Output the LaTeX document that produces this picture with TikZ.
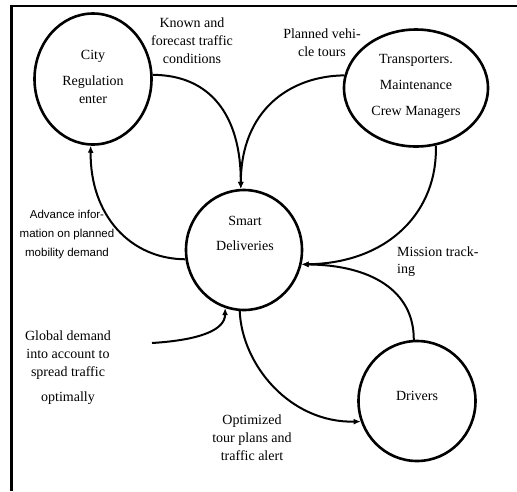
\documentclass[tikz,border=0pt]{standalone}
\usepackage{fontspec}
\setmainfont{Liberation Serif}
\newfontfamily\serfont{Liberation Serif}
\newfontfamily\advfont{Liberation Sans}
\usetikzlibrary{shapes.geometric,arrows.meta}
\begin{document}
\begin{tikzpicture}[x=1pt,y=-1pt,
 bubble/.style={ellipse,draw,line width=2.6pt,inner sep=0pt},
 conn/.style={line width=2pt,-{Latex[length=7pt,width=6pt]}},
 lbl/.style={align=center,inner sep=0pt,font=\serfont\fontsize{14}{18}\selectfont},
]
\useasboundingbox (0,0) rectangle (517,491);
\draw[line width=2.5pt] (11.5,491) -- (11.5,6) -- (517,6);

\node[bubble,minimum width=117pt,minimum height=131pt] (city) at (93,79) {};
\node[bubble,minimum width=144pt,minimum height=117pt] (trans) at (416,88) {};
\node[bubble,minimum width=116pt,minimum height=120pt] (smart) at (244,250) {};
\node[bubble,minimum width=117pt,minimum height=120pt] (drivers) at (417,401) {};

\draw[conn] (city.4) .. controls (210,75) and (241,115) .. (smart.93);
\draw[conn] (trans.170) .. controls (290,76) and (241,110) .. (smart.93);
\draw[conn] (smart.189) .. controls (130,259) and (90,215) .. (city.268);
\draw[conn] (trans.289) .. controls (438,210) and (390,263) .. (smart.346);
\draw[conn] (drivers.93) .. controls (414,290) and (370,265) .. (smart.346);
\draw[conn] (smart.266) .. controls (242,365) and (290,423) .. (drivers.200);
\coordinate (g) at (152,343);
\draw[conn] (g) .. controls (200,340) and (225,330) .. (smart.252);

\node[lbl] (knownlbl) at (192,41) {Known and\\forecast traffic\\conditions};
\node[lbl] (plannedlbl) at (322,43) {Planned vehi-\\cle tours};
\node[lbl,font=\serfont\fontsize{14}{26}\selectfont] (translbl) at (416,86) {Transporters.\\Maintenance\\Crew Managers};
\node[lbl] (citylbl) at (93,77) {City\\[8pt]Regulation\\enter};
\node[lbl,font=\serfont\fontsize{14}{25}\selectfont] (smartlbl) at (245,233) {Smart\\Deliveries};
\node[lbl] (driverslbl) at (417,396) {Drivers};
\node[lbl,font=\advfont\fontsize{11.5}{19}\selectfont] (advlbl) at (67,235) {Advance infor-\\mation on planned\\mobility demand};
\node[lbl] (globallbl) at (68,368) {Global demand\\into account to\\spread traffic\\[7pt]optimally};
\node[lbl] (optlbl) at (252,438) {Optimized\\tour plans and\\traffic alert};
\node[lbl,align=left,anchor=west,font=\serfont\fontsize{14}{17}\selectfont] (missionlbl) at (397,262) {Mission track-\\ing};
\end{tikzpicture}
\end{document}
